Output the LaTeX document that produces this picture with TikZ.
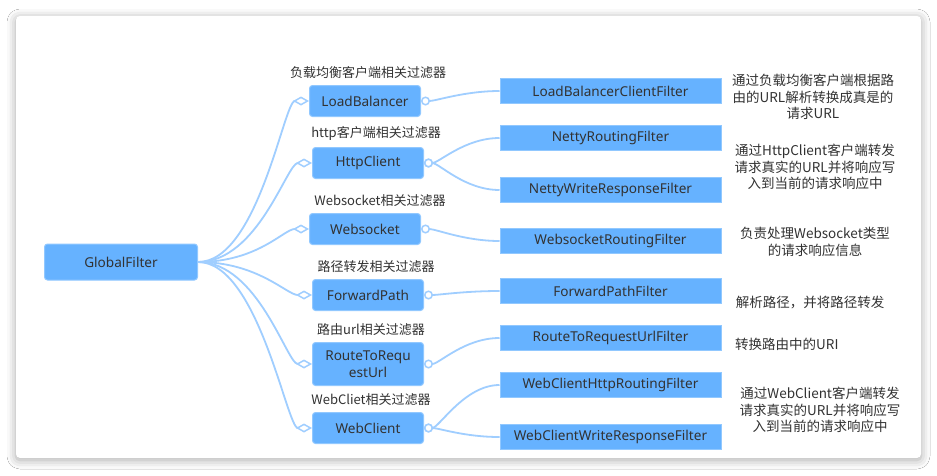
\documentclass[tikz,border=0pt]{standalone}
\usepackage{fontspec}
\setmainfont{Noto Sans CJK SC}
\newfontfamily\latfont{Noto Sans}
\usetikzlibrary{positioning,arrows.meta,shadows.blur}

\definecolor{boxblue}{RGB}{102,178,255}
\definecolor{boxedge}{RGB}{145,200,255}
\definecolor{linkblue}{RGB}{160,206,255}
\definecolor{inkgray}{RGB}{50,50,50}

\tikzset{
  box/.style={fill=boxblue, draw=boxedge, line width=1pt, text=inkgray,
    font=\latfont\fontsize{13.6}{16.5}\selectfont, inner sep=0pt, align=center},
  rootbox/.style={box, rounded corners=3pt, minimum width=153, minimum height=36},
  midbox/.style={box, rounded corners=3pt, minimum width=111, minimum height=31},
  leafbox/.style={box, minimum width=221, minimum height=25},
  tag/.style={text=inkgray, font=\fontsize{13}{16}\selectfont, inner sep=1pt},
  note/.style={text=inkgray, font=\fontsize{13.5}{16.5}\selectfont, inner sep=0pt, align=center},
  stem/.style={draw=linkblue, line width=1.8pt,
    -{Diamond[fill=white, length=16pt, width=9pt, line width=1.5pt]}},
  twig/.style={draw=linkblue, line width=1.8pt,
    {Circle[fill=white, length=9pt, line width=1.5pt]}-}
}

\begin{document}
\begin{tikzpicture}[x=1pt, y=-1pt]
    % Page and card
    \useasboundingbox (0,0) rectangle (937,475);
    \fill[white] (0,0) rectangle (937,475);
    \fill[white, rounded corners=4pt, blur shadow={shadow xshift=0pt, shadow yshift=-2pt,
        shadow blur radius=9pt, shadow opacity=35}] (16,16) rectangle (921,458);

    % Root
    \node[rootbox] (gf) at (121,262) {GlobalFilter};

    % Second level
    \node[midbox] (lb) at (365,101) {LoadBalancer};
    \node[midbox] (hc) at (368,163) {HttpClient};
    \node[midbox] (ws) at (365,229) {Websocket};
    \node[midbox] (fp) at (368,295) {ForwardPath};
    \node[midbox, minimum height=43] (rt) at (368,364) {RouteToRequ\\estUrl};
    \node[midbox] (wc) at (368,428) {WebClient};

    % Tags above the second level
    \node[tag, above=5pt of lb, xshift=3pt] (lbtag) {负载均衡客户端相关过滤器};
    \node[tag, above=5pt of hc, xshift=8pt] (hctag) {http客户端相关过滤器};
    \node[tag, above=5pt of ws, xshift=15pt] (wstag) {Websocket相关过滤器};
    \node[tag, above=5pt of fp, xshift=8pt] (fptag) {路径转发相关过滤器};
    \node[tag, above=5pt of rt, xshift=3pt] (rttag) {路由url相关过滤器};
    \node[tag, above=5pt of wc, xshift=3pt] (wctag) {WebCliet相关过滤器};

    % Filters
    \node[leafbox] (lbcf) at (610.5,91) {LoadBalancerClientFilter};
    \node[leafbox] (nrf) at (610.5,138) {NettyRoutingFilter};
    \node[leafbox] (nwrf) at (610.5,190) {NettyWriteResponseFilter};
    \node[leafbox] (wsrf) at (610.5,241) {WebsocketRoutingFilter};
    \node[leafbox] (fpf) at (610.5,291) {ForwardPathFilter};
    \node[leafbox] (rtf) at (610.5,338) {RouteToRequestUrlFilter};
    \node[leafbox] (wchr) at (610.5,385) {WebClientHttpRoutingFilter};
    \node[leafbox] (wcwr) at (610.5,437) {WebClientWriteResponseFilter};

    % Notes
    \node[note] (lbnote) at (813,97) {通过负载均衡客户端根据路\\由的URL解析转换成真是的\\请求URL};
    \node[note] (hcnote) at (815,167) {通过HttpClient客户端转发\\请求真实的URL并将响应写\\入到当前的请求响应中};
    \node[note] (wsnote) at (815,242) {负责处理Websocket类型\\的请求响应信息};
    \node[note] (fpnote) at (810,303) {解析路径，并将路径转发};
    \node[note, anchor=west] (rtnote) at (735,344) {转换路由中的URI};
    \node[note] (wcnote) at (820,410) {通过WebClient客户端转发\\请求真实的URL并将响应写\\入到当前的请求响应中};

    % Branches from the root
    \foreach \n in {lb,hc,ws,fp,rt,wc}
        \draw[stem] (gf.east) .. controls +(60,0) and +(-25,0) .. (\n.west);

    % Branches to the filters
    \foreach \a/\b in {lb/lbcf, hc/nrf, hc/nwrf, ws/wsrf, fp/fpf, rt/rtf, wc/wchr, wc/wcwr}
        \draw[twig] (\a.east) .. controls +(15,0) and +(-35,0) .. (\b.west);
\end{tikzpicture}
\end{document}
